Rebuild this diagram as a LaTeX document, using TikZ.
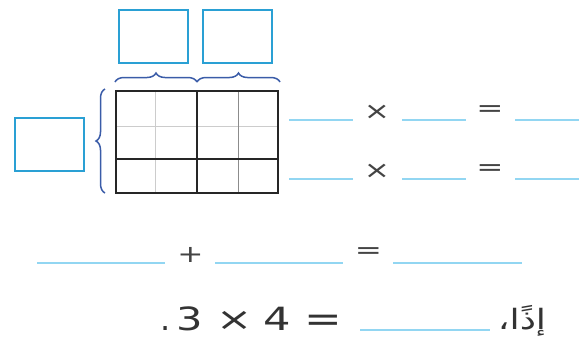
\documentclass[tikz,border=0pt]{standalone}
\usepackage{fontspec}
\setmainfont{DejaVu Sans}
\newfontfamily\arabicfont[Script=Arabic]{DejaVu Sans}
\TeXXeTstate=1
\usetikzlibrary{decorations.pathreplacing}
\definecolor{boxblue}{HTML}{2AA0D4}
\definecolor{braceblue}{HTML}{3A5CA8}
\definecolor{blankblue}{HTML}{92D6F2}
\definecolor{symgray}{HTML}{444444}
\definecolor{txtdark}{HTML}{333333}
\tikzset{
  answerbox/.style={draw=boxblue, line width=2pt, minimum width=69pt, minimum height=53pt, inner sep=0pt},
  blank/.style={draw=blankblue, line width=1.6pt},
  bracedeco/.style={draw=braceblue, line width=1.5pt, decorate, decoration={brace, amplitude=9pt}},
  smallsym/.style={text=symgray, inner sep=0pt, font=\fontsize{24}{24}\selectfont},
  bigtxt/.style={text=txtdark, inner sep=0pt, anchor=base, font=\fontsize{32}{32}\selectfont},
  gridthin/.style={draw=black!20, line width=0.8pt},
  gridmid/.style={draw=black!45, line width=1pt},
  gridthick/.style={draw=black!85, line width=1.5pt}
}
\begin{document}
\begin{tikzpicture}[x=1pt,y=-1pt]
\useasboundingbox (0,0) rectangle (583,341);
% answer boxes
\node[answerbox] (topA) at (153,36.5) {};
\node[answerbox] (topB) at (237,36.5) {};
\node[answerbox] (leftbox) at (49.5,144) {};
% grid
\draw[gridthin] (116,126) -- (278,126);
\draw[gridthin] (155,91) -- (155,193);
\draw[gridmid] (238,91) -- (238,193);
\draw[gridthick] (116,159) -- (278,159);
\draw[gridthick] (197,91) -- (197,193);
\draw[gridthick] (116,91) rectangle (278,193);
% braces
\draw[bracedeco] (115,82) -- (197,82);
\draw[bracedeco] (197,82) -- (280,82);
\draw[bracedeco] (105,193) -- (105,89);
% rows 1 and 2
\foreach \y in {120, 179} {
  \draw[blank] (289,\y) -- (353,\y);
  \draw[blank] (402,\y) -- (466,\y);
  \draw[blank] (515,\y) -- (579,\y);
}
\node[smallsym] (t1) at (377,112.5) {\scalebox{1.3}[1]{×}};
\node[smallsym] (e1) at (490,111) {\scalebox{1.35}[1]{=}};
\node[smallsym] (t2) at (377,171.5) {\scalebox{1.3}[1]{×}};
\node[smallsym] (e2) at (490,170) {\scalebox{1.35}[1]{=}};
% row 3
\draw[blank] (37,263) -- (165,263);
\draw[blank] (215,263) -- (343,263);
\draw[blank] (393,263) -- (522,263);
\node[smallsym] (plus) at (190.5,254.5) {\scalebox{1.3}[1]{+}};
\node[smallsym] (e3) at (368.5,253.5) {\scalebox{1.35}[1]{=}};
% row 4
\node[bigtxt] (dot) at (166,330) {.};
\node[bigtxt] (three) at (190,330) {\scalebox{1.3}[1]{3}};
\node[bigtxt, font=\fontsize{32}{32}\selectfont] (times) at (235,330) {\scalebox{1.35}[1]{×}};
\node[bigtxt] (four) at (277,330) {\scalebox{1.35}[1]{4}};
\node[bigtxt, font=\fontsize{36}{36}\selectfont] (eq) at (323,331) {\scalebox{1.25}[1]{=}};
\draw[blank] (360,330) -- (490,330);
\node[text=txtdark, inner sep=0pt, anchor=base, font=\arabicfont\fontsize{28}{28}\selectfont] (idhan) at (522,329) {\scalebox{1.3}[1]{\beginR إذًا،\endR}};
\end{tikzpicture}
\end{document}
